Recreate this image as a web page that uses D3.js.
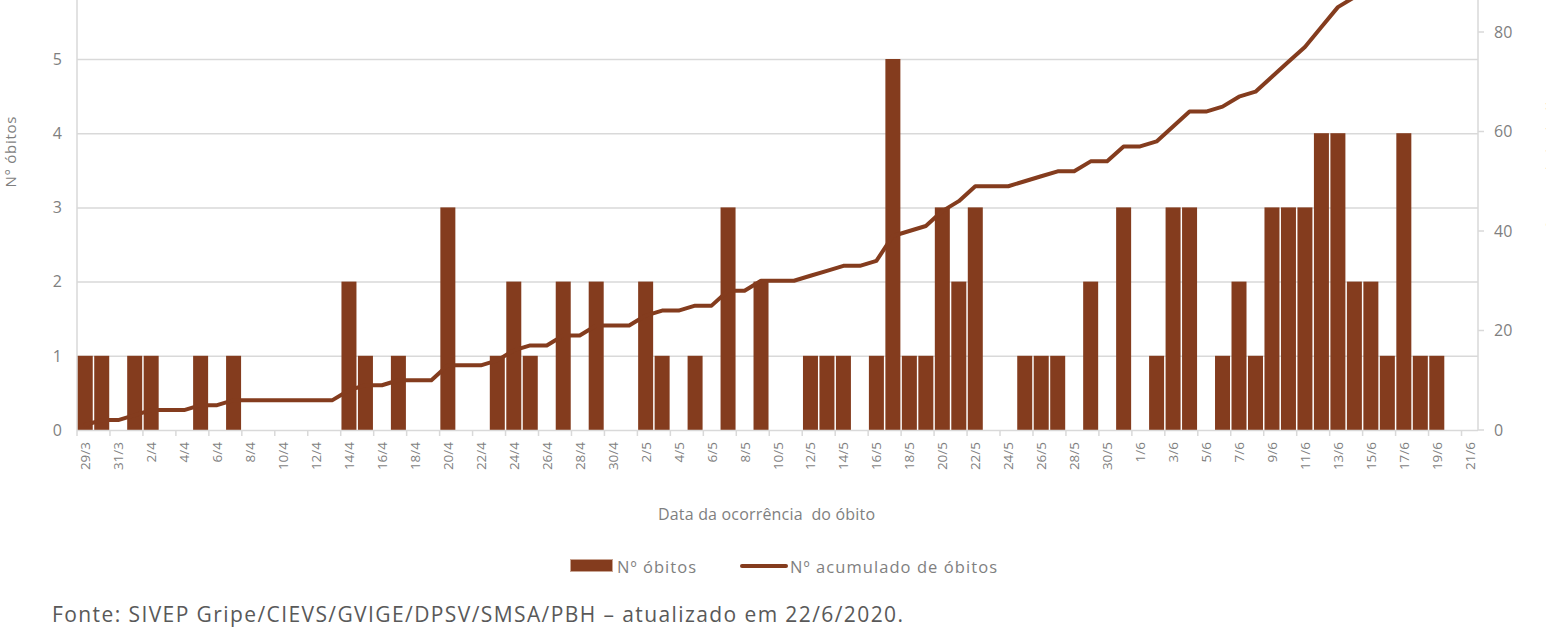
<!DOCTYPE html>
<html>
<head>
<meta charset="utf-8">
<script src="https://cdn.jsdelivr.net/npm/d3@7"></script>
<style>
  body { margin: 0; background: #fff; }
  svg { display: block; font-family: "Open Sans", sans-serif; }
</style>
</head>
<body>
<div id="chart"></div>
<script>
// day labels, 29/3 to 21/6
var dates = ["29/3","30/3","31/3","1/4","2/4","3/4","4/4","5/4","6/4","7/4","8/4","9/4","10/4","11/4","12/4","13/4",
    "14/4","15/4","16/4","17/4","18/4","19/4","20/4","21/4","22/4","23/4","24/4","25/4","26/4","27/4","28/4","29/4","30/4",
    "1/5","2/5","3/5","4/5","5/5","6/5","7/5","8/5","9/5","10/5","11/5","12/5","13/5","14/5","15/5","16/5","17/5","18/5",
    "19/5","20/5","21/5","22/5","23/5","24/5","25/5","26/5","27/5","28/5","29/5","30/5","31/5",
    "1/6","2/6","3/6","4/6","5/6","6/6","7/6","8/6","9/6","10/6","11/6","12/6","13/6","14/6","15/6","16/6","17/6","18/6",
    "19/6","20/6","21/6"];

// daily deaths (bars)
var obitos = [1,1,0,1,1,0,0,1,0,1,0,0,0,0,0,0,
    2,1,0,1,0,0,3,0,0,1,2,1,0,2,0,2,0,
    0,2,1,0,1,0,3,0,2,0,0,1,1,1,0,1,5,1,
    1,3,2,3,0,0,1,1,1,0,2,0,3,
    0,1,3,3,0,1,2,1,3,3,3,4,4,2,2,1,4,1,
    1,0,0];

// cumulative deaths (line)
var acumulado = [1,2,2,3,4,4,4,5,5,6,6,6,6,6,6,6,
    8,9,9,10,10,10,13,13,13,14,16,17,17,19,19,21,21,
    21,23,24,24,25,25,28,28,30,30,30,31,32,33,33,34,39,40,
    41,44,46,49,49,49,50,51,52,52,54,54,57,
    57,58,61,64,64,65,67,68,71,74,77,81,85,87,89,90,94,95,
    96,96,96];

// only the ticks visible in the (cropped) picture
var leftTicks = [0, 1, 2, 3, 4, 5];
var rightTicks = [0, 20, 40, 60, 80];

var width = 1546, height = 629;
var plot = { left: 77, right: 1478, bottom: 430 };
var barColor = "#843c1e";
var textColor = "#7f7f7f";
var gridColor = "#d9d9d9";

var svg = d3.select("#chart").append("svg")
    .attr("width", width)
    .attr("height", height);

// scales
var x = d3.scaleBand()
    .domain(dates)
    .range([plot.left, plot.right])
    .paddingInner(0.09)
    .paddingOuter(0.045);

var yLeft = d3.scaleLinear().domain([0, 5]).range([plot.bottom, 59]);
var yRight = d3.scaleLinear().domain([0, 80]).range([plot.bottom, 32]);

// horizontal grid lines (left axis)
svg.append("g")
    .selectAll("line")
    .data(leftTicks.slice(1))
    .enter().append("line")
    .attr("x1", plot.left)
    .attr("x2", plot.right)
    .attr("y1", function(d) { return yLeft(d) + 0.5; })
    .attr("y2", function(d) { return yLeft(d) + 0.5; })
    .attr("stroke", gridColor)
    .attr("stroke-width", 1.5);

// vertical axis lines
svg.append("line")
    .attr("x1", plot.left).attr("x2", plot.left)
    .attr("y1", plot.bottom).attr("y2", 0)
    .attr("stroke", gridColor).attr("stroke-width", 1.5);
svg.append("line")
    .attr("x1", plot.right).attr("x2", plot.right)
    .attr("y1", plot.bottom).attr("y2", 0)
    .attr("stroke", gridColor).attr("stroke-width", 1.5);

// bars
svg.append("g")
    .selectAll("rect")
    .data(dates.map(function(d, i) { return { date: d, value: obitos[i] }; }).filter(function(d) { return d.value > 0; }))
    .enter().append("rect")
    .attr("x", function(d) { return x(d.date); })
    .attr("y", function(d) { return yLeft(d.value); })
    .attr("width", x.bandwidth())
    .attr("height", function(d) { return yLeft(0) - yLeft(d.value); })
    .attr("fill", barColor);

// bottom axis line
svg.append("line")
    .attr("x1", plot.left).attr("x2", plot.right)
    .attr("y1", plot.bottom + 0.5).attr("y2", plot.bottom + 0.5)
    .attr("stroke", gridColor).attr("stroke-width", 1.5);

// x ticks, every second day boundary
var tickIdx = d3.range(0, dates.length + 1, 2);
svg.append("g")
    .selectAll("line")
    .data(tickIdx)
    .enter().append("line")
    .attr("x1", function(i) { return plot.left + i * (plot.right - plot.left) / dates.length; })
    .attr("x2", function(i) { return plot.left + i * (plot.right - plot.left) / dates.length; })
    .attr("y1", plot.bottom)
    .attr("y2", plot.bottom + 6)
    .attr("stroke", gridColor)
    .attr("stroke-width", 1.5);

// x tick labels
svg.append("g")
    .selectAll("text")
    .data(dates.filter(function(d, i) { return i % 2 === 0; }))
    .enter().append("text")
    .attr("transform", function(d) {
        return "translate(" + (x(d) + x.bandwidth() / 2 + 5) + "," + (plot.bottom + 12) + ") rotate(-90)";
    })
    .attr("text-anchor", "end")
    .attr("font-size", 13.5)
    .attr("fill", textColor)
    .text(function(d) { return d; });

// left tick labels
svg.append("g")
    .selectAll("text")
    .data(leftTicks)
    .enter().append("text")
    .attr("x", 62)
    .attr("y", function(d) { return yLeft(d); })
    .attr("dy", "0.36em")
    .attr("text-anchor", "end")
    .attr("font-size", 16)
    .attr("fill", textColor)
    .text(function(d) { return d; });

// right ticks and labels
svg.append("g")
    .selectAll("line")
    .data(rightTicks)
    .enter().append("line")
    .attr("x1", plot.right)
    .attr("x2", plot.right + 6)
    .attr("y1", function(d) { return yRight(d); })
    .attr("y2", function(d) { return yRight(d); })
    .attr("stroke", gridColor)
    .attr("stroke-width", 1.5);

svg.append("g")
    .selectAll("text")
    .data(rightTicks)
    .enter().append("text")
    .attr("x", 1494)
    .attr("y", function(d) { return yRight(d); })
    .attr("dy", "0.36em")
    .attr("font-size", 16)
    .attr("fill", textColor)
    .text(function(d) { return d; });

// cumulative line
var line = d3.line()
    .x(function(d, i) { return x(dates[i]) + x.bandwidth() / 2; })
    .y(function(d) { return yRight(d); });

svg.append("path")
    .datum(acumulado)
    .attr("d", line)
    .attr("fill", "none")
    .attr("stroke", barColor)
    .attr("stroke-width", 4)
    .attr("stroke-linejoin", "round")
    .attr("stroke-linecap", "round");

// axis titles
svg.append("text")
    .attr("transform", "translate(16,152) rotate(-90)")
    .attr("text-anchor", "middle")
    .attr("font-size", 15)
    .attr("fill", textColor)
    .attr("textLength", 71)
    .attr("lengthAdjust", "spacing")
    .text("N° óbitos");

// right title is cut by the picture edge, only a sliver shows
svg.append("text")
    .attr("transform", "translate(1557,155) rotate(-90)")
    .attr("text-anchor", "middle")
    .attr("font-size", 15)
    .attr("fill", textColor)
    .text("Nº acumulado de óbitos");

svg.append("text")
    .attr("x", 658)
    .attr("y", 520)
    .attr("font-size", 16)
    .attr("fill", textColor)
    .attr("textLength", 217)
    .attr("lengthAdjust", "spacing")
    .style("white-space", "pre")
    .text("Data da ocorrência  do óbito");

// legend
var legend = svg.append("g");
legend.append("rect")
    .attr("x", 570.5).attr("y", 559.5)
    .attr("width", 42).attr("height", 12)
    .attr("fill", barColor)
    .attr("stroke", "#c9a594")
    .attr("stroke-width", 1);
legend.append("text")
    .attr("x", 617).attr("y", 573)
    .attr("font-size", 16.5)
    .attr("fill", textColor)
    .attr("textLength", 79)
    .attr("lengthAdjust", "spacing")
    .text("Nº óbitos");
legend.append("line")
    .attr("x1", 742).attr("x2", 786)
    .attr("y1", 566).attr("y2", 566)
    .attr("stroke", barColor)
    .attr("stroke-width", 4)
    .attr("stroke-linecap", "round");
legend.append("text")
    .attr("x", 790).attr("y", 573)
    .attr("font-size", 16.5)
    .attr("fill", textColor)
    .attr("textLength", 207)
    .attr("lengthAdjust", "spacing")
    .text("Nº acumulado de óbitos");

// source note
svg.append("text")
    .attr("x", 52)
    .attr("y", 622)
    .attr("font-size", 21)
    .attr("fill", "#595959")
    .attr("textLength", 851)
    .attr("lengthAdjust", "spacing")
    .text("Fonte: SIVEP Gripe/CIEVS/GVIGE/DPSV/SMSA/PBH – atualizado em 22/6/2020.");
</script>
</body>
</html>
